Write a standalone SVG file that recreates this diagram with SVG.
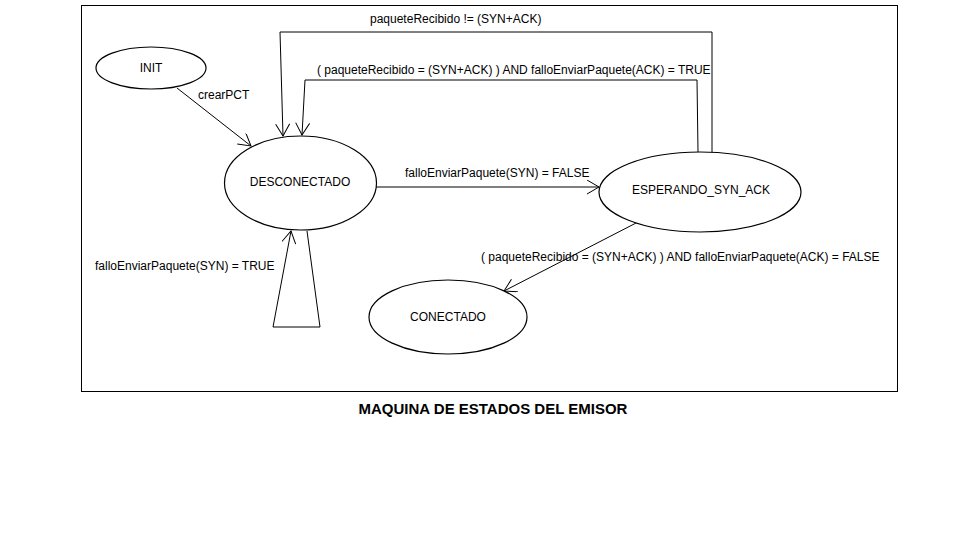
<svg xmlns="http://www.w3.org/2000/svg" width="977" height="540" viewBox="0 0 977 540">
<style>
.st{fill:#fff;stroke:#000;stroke-width:1.2}
.lbl{font-family:"Liberation Sans",Arial,sans-serif;font-size:12px;fill:#000}
.nl{font-family:"Liberation Sans",Arial,sans-serif;font-size:12px;fill:#000;text-anchor:middle}
.c{fill:none;stroke:#000;stroke-width:1}
</style>
<defs>
<marker id="ar" markerUnits="userSpaceOnUse" markerWidth="16" markerHeight="16" refX="13" refY="7" orient="auto">
<path d="M1,0 L13,7 L1,14" fill="none" stroke="#000" stroke-width="1"/>
</marker>
</defs>
<rect width="977" height="540" fill="#fff"/>
<rect x="81.5" y="5.5" width="816" height="386" fill="none" stroke="#000" stroke-width="1"/>
<g id="connectors">
<line class="c" x1="177" y1="88" x2="251" y2="146" marker-end="url(#ar)"/>
<text class="lbl" x="198" y="99">crearPCT</text>
<line class="c" x1="376" y1="187" x2="599" y2="187" marker-end="url(#ar)"/>
<text class="lbl" x="405" y="177">falloEnviarPaquete(SYN) = FALSE</text>
<polyline class="c" points="712,153 712,32 280,32 283,136" marker-end="url(#ar)"/>
<text class="lbl" x="370" y="23">paqueteRecibido != (SYN+ACK)</text>
<polyline class="c" points="698,152 697,80 305,80 302,135" marker-end="url(#ar)"/>
<text class="lbl" x="317" y="74">( paqueteRecibido = (SYN+ACK) ) AND falloEnviarPaquete(ACK) = TRUE</text>
<polyline class="c" points="307,231 320,327 273,327 291,231" marker-end="url(#ar)"/>
<text class="lbl" x="95" y="270">falloEnviarPaquete(SYN) = TRUE</text>
<line class="c" x1="638" y1="222" x2="504" y2="291" marker-end="url(#ar)"/>
<text class="lbl" x="481" y="261">( paqueteRecibido = (SYN+ACK) ) AND falloEnviarPaquete(ACK) = FALSE</text>
</g>
<g id="INIT">
<ellipse class="st" cx="151" cy="68" rx="55" ry="21"/>
<text class="nl" x="151" y="72">INIT</text>
</g>
<g id="DESCONECTADO">
<ellipse class="st" cx="300.5" cy="183" rx="76" ry="47"/>
<text class="nl" x="300" y="186">DESCONECTADO</text>
</g>
<g id="ESPERANDO_SYN_ACK">
<ellipse class="st" cx="700" cy="192" rx="101" ry="40"/>
<text class="nl" x="701" y="194">ESPERANDO_SYN_ACK</text>
</g>
<g id="CONECTADO">
<ellipse class="st" cx="448" cy="317" rx="79" ry="37"/>
<text class="nl" x="448" y="321">CONECTADO</text>
</g>
<text x="493" y="414" font-family="'Liberation Sans',Arial,sans-serif" font-size="15" font-weight="bold" text-anchor="middle">MAQUINA DE ESTADOS DEL EMISOR</text>
</svg>
